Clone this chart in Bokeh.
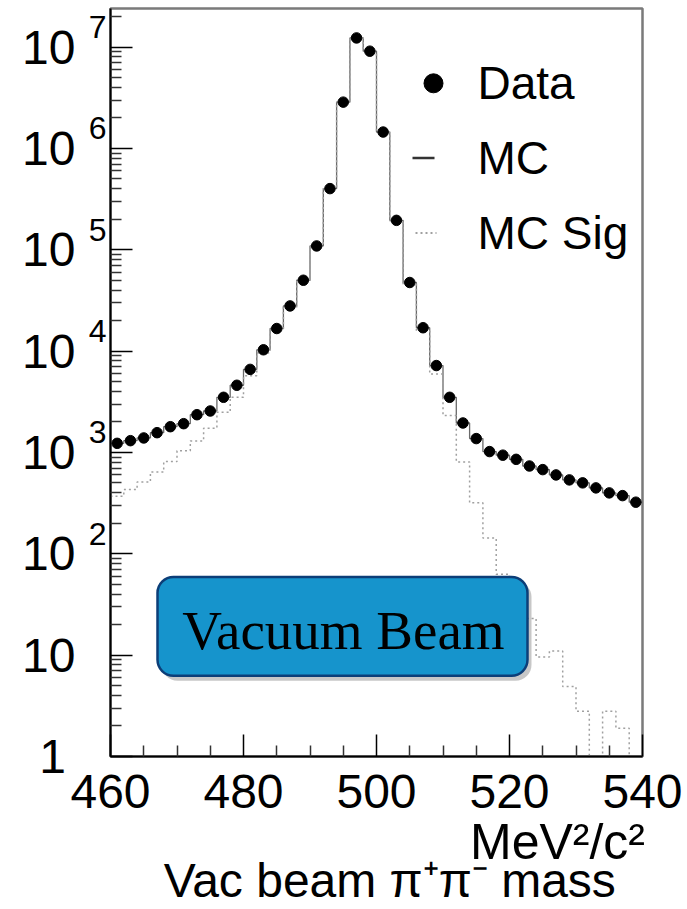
import math

from bokeh.plotting import figure
from bokeh.models import Label, BoxAnnotation, FixedTicker, Range1d, LogAxis, LinearAxis
from bokeh.embed import file_html
from bokeh.resources import INLINE

# pi+ pi- invariant mass, 2 MeV bins from 460 to 540
bin_centers = [461, 463, 465, 467, 469, 471, 473, 475, 477, 479,
               481, 483, 485, 487, 489, 491, 493, 495, 497, 499,
               501, 503, 505, 507, 509, 511, 513, 515, 517, 519,
               521, 523, 525, 527, 529, 531, 533, 535, 537, 539]
bin_width = 2

data_counts = [1230, 1307, 1390, 1567, 1795, 1922, 2357, 2564, 3500, 4600,
               6600, 10300, 16700, 27900, 50000, 109000, 401000, 2.86e6, 1.23e7, 9.1e6,
               1.45e6, 195000, 47500, 17000, 7200, 3500, 1953, 1370, 1020, 940,
               855, 735, 677, 600, 536, 501, 447, 399, 375, 323]

mc_counts = [1230, 1307, 1390, 1567, 1795, 1922, 2357, 2564, 3500, 4600,
             6600, 10300, 16700, 27900, 50000, 109000, 401000, 2.86e6, 1.23e7, 9.1e6,
             1.45e6, 195000, 47500, 17000, 7200, 3500, 1953, 1370, 1020, 940,
             855, 735, 677, 600, 536, 501, 447, 399, 375, 323]

mc_sig_counts = [370, 430, 510, 640, 812, 1040, 1300, 1730, 2490, 3500,
                 5700, 9600, 16000, 27000, 49000, 108000, 400000, 2.85e6, 1.23e7, 9.1e6,
                 1.45e6, 193000, 46000, 15800, 5930, 2320, 805, 318, 143, 63,
                 38, 23, 9.6, 11, 4.9, 2.8, 0, 2.8, 1.9, 0]

x_ticks = [460, 480, 500, 520, 540]
y_decades = [0, 1, 2, 3, 4, 5, 6, 7]

legend_labels = ["Data", "MC", "MC Sig"]
x_title = "Vac beam \u03c0\u207a\u03c0\u207b mass"
x_unit = "MeV\u00b2/c\u00b2"
banner_text = "Vacuum Beam"

# canvas and frame geometry (pixels)
W, H = 687, 909
FL, FR, FT, FB = 110, 642, 8, 758
X0, X1 = 460, 540
Y0, Y1 = 1, 2.4e7
PX_PER_DECADE = (FB - FT) / (math.log10(Y1) - math.log10(Y0))


def xd(px):
    """screen x -> data x"""
    return X0 + (px - FL) * (X1 - X0) / (FR - FL)


def yd(py):
    """screen y (from top) -> data y on the log axis"""
    return 10 ** (math.log10(Y0) + (FB - py) / PX_PER_DECADE)


def step_path(values):
    xs, ys = [], []
    for c, v in zip(bin_centers, values):
        v = v if v > 0 else Y0 * 0.5   # empty bins drop below the axis floor
        xs += [c - bin_width / 2, c + bin_width / 2]
        ys += [v, v]
    return xs, ys


p = figure(width=W, height=H, y_axis_type="log",
           x_range=Range1d(X0, X1), y_range=Range1d(Y0, Y1),
           output_backend="svg", toolbar_location=None,
           min_border_left=FL, min_border_right=W - FR,
           min_border_top=FT, min_border_bottom=H - FB)
p.background_fill_color = "white"
p.border_fill_color = "white"
p.grid.visible = False
p.outline_line_color = "#7a7a7a"
p.outline_line_width = 2.5

FONT = "Liberation Sans"
xaxis = p.below[0]
yaxis = p.left[0]

# x axis
xaxis.ticker = FixedTicker(
    ticks=x_ticks,
    minor_ticks=[v for v in range(X0, X1 + 1, 5) if v not in x_ticks])
xaxis.major_label_text_font = FONT
xaxis.major_label_text_font_size = "48px"
xaxis.major_label_text_color = "black"
xaxis.major_label_standoff = 18

# y axis: mantissa "10" (or "1") next to the frame
yaxis.ticker = FixedTicker(
    ticks=[10 ** d for d in y_decades],
    minor_ticks=[k * 10 ** d for d in y_decades for k in range(2, 10) if k * 10 ** d < Y1])
yaxis.major_label_overrides = {10 ** d: ("1\u2009" if d == 0 else "10") for d in y_decades}
yaxis.major_label_text_font = FONT
yaxis.major_label_text_font_size = "48px"
yaxis.major_label_text_color = "black"
yaxis.major_label_standoff = 35

for ax in (xaxis, yaxis):
    ax.axis_line_color = "black"
    ax.axis_line_width = 2
    ax.major_tick_in = 22
    ax.major_tick_out = 0
    ax.minor_tick_in = 11
    ax.minor_tick_out = 0
    ax.major_tick_line_color = "black"
    ax.minor_tick_line_color = "#333333"
    ax.major_tick_line_width = 1.5
    ax.minor_tick_line_width = 1.5

# exponents: a label-only log axis on a range raised by 20 px
raise_px = 20
f = 10 ** (raise_px / PX_PER_DECADE)
p.extra_y_ranges = {"exponent": Range1d(Y0 / f, Y1 / f)}
exp_axis = LogAxis(y_range_name="exponent",
                   ticker=FixedTicker(ticks=[10 ** d for d in y_decades if d >= 2], minor_ticks=[]),
                   major_label_overrides={10 ** d: str(d) for d in y_decades if d >= 2},
                   axis_line_color=None, major_tick_line_color=None, minor_tick_line_color=None,
                   major_tick_in=0, major_tick_out=0, minor_tick_in=0, minor_tick_out=0,
                   major_label_text_font=FONT, major_label_text_font_size="32px",
                   major_label_text_color="black", major_label_text_align="left",
                   major_label_standoff=-87)
p.add_layout(exp_axis, "left")


def title_axis(tick, text, align, size, standoff):
    """label-only axis below the plot carrying one line of title text"""
    return LinearAxis(ticker=FixedTicker(ticks=[tick], minor_ticks=[]),
                      major_label_overrides={tick: text},
                      axis_line_color=None, major_tick_line_color=None,
                      minor_tick_line_color=None,
                      major_tick_in=0, major_tick_out=0, minor_tick_in=0, minor_tick_out=0,
                      major_label_text_font=FONT, major_label_text_font_size=size,
                      major_label_text_color="black", major_label_text_align=align,
                      major_label_standoff=standoff)


# axis titles: unit flush right, quantity centred under the plot
p.add_layout(title_axis(X1, x_unit, "right", "50px", 3), "below")
p.add_layout(title_axis(502, x_title, "center", "48px", -19), "below")

# histograms and data points
mx, my = step_path(mc_counts)
p.line(mx, my, line_color="#6a6a6a", line_width=1.3)
sx, sy = step_path(mc_sig_counts)
p.line(sx, sy, line_color="#a0a0a0", line_width=1.5, line_dash="2 3")
p.scatter(bin_centers, data_counts, size=10.5, color="black")

# legend
p.scatter([xd(433)], [yd(83)], size=19, color="black")
p.line([xd(412), xd(434)], [yd(158), yd(158)], line_color="#333333", line_width=2.5)
p.line([xd(415), xd(436)], [yd(233), yd(233)], line_color="#a0a0a0", line_width=2, line_dash="2 3")
for lab, py in zip(legend_labels, [83, 158, 233]):
    p.add_layout(Label(x=xd(477), y=yd(py), text=lab, text_align="left",
                       text_baseline="middle", text_font=FONT,
                       text_font_size="46px", text_color="black"))

# rounded banner with a soft drop shadow
p.add_layout(BoxAnnotation(left=xd(161), right=xd(531), top=yd(582), bottom=yd(682),
                           fill_color="black", fill_alpha=0.22, line_alpha=0,
                           border_radius=16))
p.add_layout(BoxAnnotation(left=xd(157), right=xd(527), top=yd(578), bottom=yd(677),
                           fill_color="#1694CC", fill_alpha=1.0,
                           line_color="#0C3E78", line_alpha=1.0, line_width=2.5,
                           border_radius=16))
p.add_layout(Label(x=xd(343), y=yd(632), text=banner_text, text_align="center",
                   text_baseline="middle", text_font="Liberation Serif",
                   text_font_size="55px", text_color="black"))

open("out.html", "w").write(file_html(p, INLINE))
